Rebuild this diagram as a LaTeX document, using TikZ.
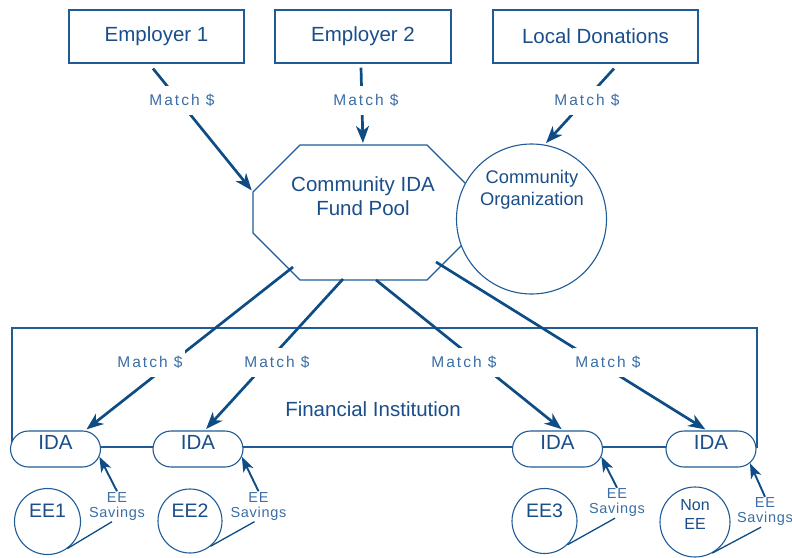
\documentclass[tikz,border=0pt]{standalone}
\usepackage{fontspec}
\setmainfont{Liberation Sans}
\newfontfamily\tagfont{Liberation Sans}[LetterSpace=13]
\newfontfamily\savfont{Liberation Sans}[LetterSpace=5]
\usetikzlibrary{arrows.meta,shapes.misc}

\definecolor{edge}{HTML}{1F5B96}
\definecolor{ink}{HTML}{1A4E8A}
\definecolor{flow}{HTML}{0E4C86}
\definecolor{tagink}{HTML}{3A6EA5}

\begin{document}
\begin{tikzpicture}[x=1pt, y=-1pt,
  outline/.style={draw=edge, line width=1.1pt},
  bigtext/.style={font=\fontsize{20.5}{24}\selectfont, text=ink},
  box/.style={outline, bigtext, rectangle, minimum height=53pt, inner sep=0pt},
  pill/.style={outline, bigtext, fill=white, rounded rectangle, minimum width=90pt,
    minimum height=36pt, inner sep=0pt, text height=8pt, text depth=8pt},
  ring/.style={outline, fill=white, circle, inner sep=0pt},
  ringtext/.style={bigtext, align=center, inner sep=0pt},
  tag/.style={font=\tagfont\fontsize{15.5}{18}\selectfont, text=tagink, fill=white,
    inner xsep=2pt, inner ysep=0pt, minimum height=29pt},
  savtag/.style={font=\savfont\fontsize{14.5}{15}\selectfont, text=tagink, align=center,
    inner sep=1pt},
  money/.style={draw=flow, line width=2.7pt,
    -{Stealth[length=17pt, width=13pt, inset=5pt]}, shorten >=2pt},
  deposit/.style={draw=flow, line width=1.9pt,
    -{Stealth[length=15pt, width=11pt, inset=4pt]}},
  tether/.style={draw=flow, line width=1.3pt}
]
\useasboundingbox (0,0) rectangle (792,557);

% funding sources
\node[box, minimum width=175pt] (emp1) at (156.5,36.5) {Employer 1};
\node[box, minimum width=176pt] (emp2) at (363,36.5) {Employer 2};
\node[box, minimum width=205pt] (don)  at (595.5,36.5) {Local Donations};

% financial institution frame
\node[outline, rectangle, minimum width=745pt, minimum height=119pt, inner sep=0pt]
  (fi) at (384.5,387.5) {};
\node[bigtext] (fitext) at (373,409) {Financial Institution};

% community fund pool (octagon)
\coordinate (p1) at (300,145);
\coordinate (p2) at (427,145);
\coordinate (p3) at (474,192);
\coordinate (p4) at (474,233);
\coordinate (p5) at (427,280);
\coordinate (p6) at (300,280);
\coordinate (p7) at (253,233);
\coordinate (p8) at (253,192);
\draw[outline] (p1) -- (p2) -- (p3) -- (p4) -- (p5) -- (p6) -- (p7) -- (p8) -- cycle;
\node[ringtext] (pool) at (363,196) {Community IDA\\Fund Pool};

% community organization
\node[ring, minimum size=150pt] (org) at (531.5,219) {};
\node[ringtext, font=\fontsize{18.3}{22}\selectfont] (orgtext) at (532,190)
  {Community\\Organization};

% IDA accounts
\node[pill] (ida1) at (55.5,449) {IDA};
\node[pill] (ida2) at (198,449) {IDA};
\node[pill] (ida3) at (557.5,449) {IDA};
\node[pill] (ida4) at (711,449) {IDA};

% savers
\node[ring, minimum size=66pt] (ee1) at (47.5,521.5) {};
\node[ring, minimum size=64pt] (ee2) at (190,521) {};
\node[ring, minimum size=65pt] (ee3) at (544.5,521) {};
\node[ring, minimum size=70pt] (ne)  at (695,522) {};
\node[ringtext, font=\fontsize{19.5}{22}\selectfont] (ee1t) at (47.5,511) {EE1};
\node[ringtext, font=\fontsize{19.5}{22}\selectfont] (ee2t) at (190,511) {EE2};
\node[ringtext, font=\fontsize{19.5}{22}\selectfont] (ee3t) at (544.5,511) {EE3};
\node[ringtext, font=\fontsize{16}{19}\selectfont] (net) at (695,514.5) {Non\\EE};

% start points of the match flows
\coordinate (s1) at (293,267);
\coordinate (s2) at (343,279);
\coordinate (s3) at (376,280);
\coordinate (s4) at (436,262);

% match money into the pool
\draw[money] ([xshift=-3.5pt, yshift=-5pt]emp1.south) -- (p8);
\draw[money] ([xshift=-2pt, yshift=-4pt]emp2.south) -- (p1 -| emp2.south);
\draw[money] ([xshift=18.5pt, yshift=-5pt]don.south) -- (org.80);

% match money from the pool to the accounts
\draw[money] (s1) -- (ida1.32);
\draw[money] (s2) -- (ida2.70);
\draw[money] (s3) -- (ida3.73);
\draw[money] (s4) -- (ida4.102);

% labels on the flows
\node[tag] (t1) at (182,100.5) {Match \$};
\node[tag] (t2) at (366,100.5) {Match \$};
\node[tag] (t3) at (587,100.5) {Match \$};
\node[tag] (t4) at (150,362.5) {Match \$};
\node[tag] (t5) at (277,362.5) {Match \$};
\node[tag] (t6) at (464,362.5) {Match \$};
\node[tag] (t7) at (608,362.5) {Match \$};

% savings deposits
\node[savtag] (sv1) at (117,506.5) {EE\\Savings};
\node[savtag] (sv2) at (258.5,506.5) {EE\\Savings};
\node[savtag] (sv3) at (617,503) {EE\\Savings};
\node[savtag] (sv4) at (765,512) {EE\\Savings};

\draw[deposit] (sv1.north) -- (ida1.-10);
\draw[deposit] (sv2.north) -- (ida2.-10);
\draw[deposit] (sv3.north) -- (ida3.-10);
\draw[deposit] (sv4.north) -- (ida4.-20);

\draw[tether] ([xshift=-5pt]sv1.south) -- (ee1.-54);
\draw[tether] ([xshift=-4pt]sv2.south) -- (ee2.-51);
\draw[tether] ([xshift=-2pt]sv3.south) -- (ee3.-46);
\draw[tether] ([xshift=-4pt]sv4.south) -- (ne.-61);
\end{tikzpicture}
\end{document}
